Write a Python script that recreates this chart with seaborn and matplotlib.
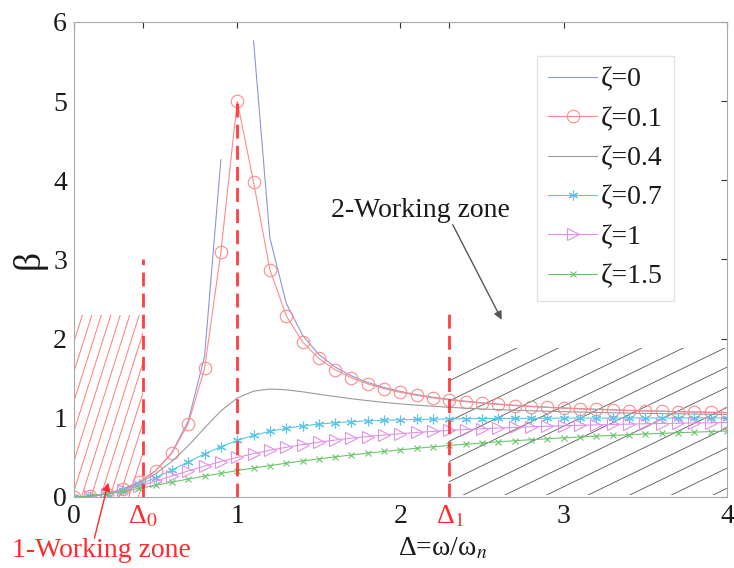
import numpy as np
import matplotlib
matplotlib.use("Agg")
import matplotlib.pyplot as plt
import seaborn as sns
from matplotlib.patches import Rectangle

# Frequency ratio Δ = ω/ωn
delta = [0.0, 0.1, 0.2, 0.3, 0.4, 0.5, 0.6, 0.7, 0.8, 0.9, 1.0,
         1.1, 1.2, 1.3, 1.4, 1.5, 1.6, 1.7, 1.8, 1.9, 2.0,
         2.1, 2.2, 2.3, 2.4, 2.5, 2.6, 2.7, 2.8, 2.9, 3.0,
         3.1, 3.2, 3.3, 3.4, 3.5, 3.6, 3.7, 3.8, 3.9, 4.0]

# Amplitude ratio β for each damping ratio ζ (undamped case is unbounded at Δ=1)
beta_z0 = [0.000, 0.010, 0.042, 0.099, 0.190, 0.333, 0.562, 0.961, 1.778, 4.263, np.nan,
           5.762, 3.273, 2.449, 2.042, 1.800, 1.641, 1.529, 1.446, 1.383, 1.333,
           1.293, 1.260, 1.233, 1.210, 1.190, 1.174, 1.159, 1.146, 1.135, 1.125,
           1.116, 1.108, 1.101, 1.095, 1.089, 1.084, 1.079, 1.074, 1.070, 1.067]
beta_z01 = [0.000, 0.010, 0.042, 0.099, 0.190, 0.330, 0.553, 0.927, 1.625, 3.095, 5.000,
            3.978, 2.873, 2.292, 1.960, 1.750, 1.608, 1.505, 1.428, 1.369, 1.322,
            1.284, 1.252, 1.226, 1.204, 1.185, 1.169, 1.155, 1.142, 1.131, 1.122,
            1.113, 1.106, 1.099, 1.092, 1.087, 1.082, 1.077, 1.073, 1.069, 1.065]
beta_z04 = [0.000, 0.010, 0.041, 0.096, 0.178, 0.294, 0.450, 0.647, 0.872, 1.088, 1.250,
            1.337, 1.364, 1.354, 1.329, 1.298, 1.269, 1.241, 1.217, 1.195, 1.176,
            1.160, 1.146, 1.133, 1.122, 1.112, 1.104, 1.096, 1.089, 1.083, 1.078,
            1.073, 1.068, 1.064, 1.060, 1.057, 1.053, 1.051, 1.048, 1.045, 1.043]
beta_z07 = [0.000, 0.010, 0.040, 0.090, 0.158, 0.244, 0.341, 0.444, 0.544, 0.636, 0.714,
            0.779, 0.829, 0.868, 0.898, 0.921, 0.938, 0.951, 0.961, 0.969, 0.975,
            0.979, 0.983, 0.986, 0.989, 0.991, 0.992, 0.993, 0.994, 0.995, 0.996,
            0.997, 0.997, 0.998, 0.998, 0.998, 0.999, 0.999, 0.999, 0.999, 0.999]
beta_z10 = [0.000, 0.010, 0.038, 0.083, 0.138, 0.200, 0.265, 0.329, 0.390, 0.448, 0.500,
            0.548, 0.590, 0.628, 0.662, 0.692, 0.719, 0.743, 0.764, 0.783, 0.800,
            0.815, 0.829, 0.841, 0.852, 0.862, 0.871, 0.879, 0.887, 0.894, 0.900,
            0.906, 0.911, 0.916, 0.920, 0.925, 0.928, 0.932, 0.935, 0.938, 0.941]
beta_z15 = [0.000, 0.010, 0.035, 0.070, 0.109, 0.149, 0.188, 0.227, 0.264, 0.299, 0.333,
            0.366, 0.397, 0.427, 0.455, 0.482, 0.507, 0.531, 0.554, 0.576, 0.596,
            0.616, 0.634, 0.651, 0.667, 0.683, 0.697, 0.711, 0.724, 0.736, 0.747,
            0.758, 0.769, 0.778, 0.787, 0.796, 0.804, 0.812, 0.819, 0.826, 0.833]

series_labels = ["ζ=0", "ζ=0.1", "ζ=0.4", "ζ=0.7", "ζ=1", "ζ=1.5"]
series_values = [beta_z0, beta_z01, beta_z04, beta_z07, beta_z10, beta_z15]

# Characteristic frequency ratios and working-zone limits
delta0 = 0.42
delta1 = 2.3
marker_lines_x = [delta0, 1.0, delta1]
marker_lines_top = [3.0, 5.0, 2.33]
zone1_top = 2.3
zone2_bottom, zone2_top = 0.03, 1.88

x_ticks = [0, delta0, 1, 2, delta1, 3, 4]
x_tick_labels = ["0", "Δ$_0$", "1", "2", "Δ$_1$", "3", "4"]
y_ticks = [0, 1, 2, 3, 4, 5, 6]

sns.set_theme(style="white")
plt.rcParams["font.family"] = ["Liberation Serif", "DejaVu Serif"]
plt.rcParams["mathtext.fontset"] = "stix"

RED = "#ff2a2a"
styles = [
    dict(color="#8a97d8", marker=None, ms=0),
    dict(color="#ff8a8a", marker="o", ms=9),
    dict(color="#9a9a9a", marker=None, ms=0),
    dict(color="#5cc6e6", marker=(6, 2, 0), ms=7),
    dict(color="#e290e6", marker=">", ms=9),
    dict(color="#6cc46c", marker="x", ms=4),
]


def finite_runs(xs, ys):
    """Split a series into contiguous runs without missing values."""
    xs = np.asarray(xs, dtype=float)
    ys = np.asarray(ys, dtype=float)
    ok = np.isfinite(ys)
    runs, start = [], None
    for i, good in enumerate(ok):
        if good and start is None:
            start = i
        if not good and start is not None:
            runs.append((xs[start:i], ys[start:i]))
            start = None
    if start is not None:
        runs.append((xs[start:], ys[start:]))
    return runs


fig = plt.figure(figsize=(7.34, 5.68), dpi=100)
ax = fig.add_axes([0.1008, 0.125, 0.8896, 0.8363])

for label, values, st in zip(series_labels, series_values, styles):
    for j, (xs, ys) in enumerate(finite_runs(delta, values)):
        kws = dict(x=xs, y=ys, ax=ax, color=st["color"], linewidth=0.8,
                   label=label if j == 0 else None, estimator=None, sort=False)
        if st["marker"] is not None:
            kws.update(marker=st["marker"], markersize=st["ms"],
                       markerfacecolor="none", markeredgecolor=st["color"],
                       markeredgewidth=0.8)
        sns.lineplot(**kws)

# Zone 1 hatching (steep red lines)
clip1 = Rectangle((0, 0), delta0, zone1_top, transform=ax.transData)
slope1, step1 = 6.5, 0.058
for k in range(16):
    x_int = -0.36 + k * step1
    ln, = ax.plot([x_int, x_int + 1.0], [0, slope1], color="#ff7a7a",
                  lw=0.7, zorder=1)
    ln.set_clip_path(clip1)

# Zone 2 hatching (dark grey lines)
clip2 = Rectangle((delta1, zone2_bottom), 4 - delta1, zone2_top - zone2_bottom,
                  transform=ax.transData)
step2 = 0.255
for k in range(-6, 7):
    c = 2.36 + k * step2
    ln, = ax.plot([c, c + 3.0], [0, 3.0], color="#555555", lw=0.6, zorder=1)
    ln.set_clip_path(clip2)

# Dashed markers at Δ0, resonance and Δ1
ax.vlines(marker_lines_x, 0, marker_lines_top, colors=RED, linewidth=2.0,
          linestyles=(0, (5, 2.6)), zorder=3, alpha=0.9)

ax.set_xlim(0, 4)
ax.set_ylim(0, 6)
ax.set_xticks(x_ticks)
ax.set_xticklabels(x_tick_labels)
ax.set_yticks(y_ticks)
ax.tick_params(direction="in", length=4, width=0.8, color="#333333",
               top=True, right=True, labelsize=20, pad=5, labelcolor="#1a1a1a")
for lbl in ax.get_xticklabels():
    if "Δ" in lbl.get_text():
        lbl.set_color(RED)
for sp in ax.spines.values():
    sp.set_color("#a8a8a8")
    sp.set_linewidth(0.8)

ax.set_xlabel("Δ=ω/ω$_n$", fontsize=20, color="#1a1a1a")
ax.xaxis.set_label_coords(0.565, -0.082)
ax.set_ylabel("β", fontsize=27, color="#1a1a1a")
ax.yaxis.set_label_coords(-0.042, 0.5)

# Working-zone annotations
ax.text(2.12, 3.62, "2-Working zone", fontsize=20, color="#1a1a1a",
        ha="center", va="center")
ax.annotate("", xy=(2.62, 2.24), xytext=(2.32, 3.44),
            arrowprops=dict(arrowstyle="-|>", color="#555555", lw=1.0,
                            mutation_scale=12, shrinkA=0, shrinkB=0))
ax.text(0.17, -0.67, "1-Working zone", fontsize=20, color=RED,
        ha="center", va="center", clip_on=False)
ax.annotate("", xy=(0.21, 0.18), xytext=(0.125, -0.52),
            arrowprops=dict(arrowstyle="-|>", color=RED, lw=1.0,
                            mutation_scale=12, shrinkA=0, shrinkB=0),
            annotation_clip=False)

leg = ax.legend(loc="upper right", bbox_to_anchor=(0.919, 0.928), fontsize=20,
                frameon=True, fancybox=False, edgecolor="#e2e2e2", framealpha=1,
                borderpad=0.4, labelspacing=0.5, handlelength=1.75,
                handletextpad=0.15, borderaxespad=0)
for txt in leg.get_texts():
    txt.set_color("#1a1a1a")

fig.savefig("out.png", dpi=100)
